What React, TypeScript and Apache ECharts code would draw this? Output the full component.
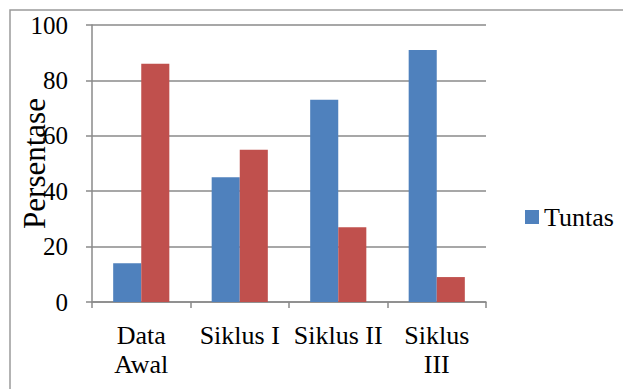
import React, { useEffect, useRef } from "react";
import * as echarts from "echarts";

const categories = ["Data\nAwal", "Siklus I", "Siklus II", "Siklus\nIII"];
const tuntas = [14, 45, 73, 91];
const tidakTuntas = [86, 55, 27, 9];
const yTicks = { min: 0, max: 100, interval: 20 };

const FONT = "'Liberation Serif', 'Times New Roman', serif";
const AXIS_COLOR = "#8a8a8a";

export default function App() {
  const ref = useRef<HTMLDivElement>(null);
  useEffect(() => {
    document.body.style.margin = "0";
    const chart = echarts.init(ref.current!, null, { renderer: "svg" });
    chart.setOption({
      animation: false,
      backgroundColor: "#ffffff",
      textStyle: { fontFamily: FONT },
      graphic: [
        {
          type: "rect",
          shape: { x: 10, y: 10, width: 800, height: 600 },
          style: { fill: "none", stroke: "#9a9a9a", lineWidth: 1.5 },
          silent: true,
        },
      ],
      grid: {
        left: 92,
        top: 25,
        right: 137,
        bottom: 87,
        containLabel: false,
        outerBoundsMode: "none",
      },
      legend: {
        data: ["Tuntas"],
        left: 525,
        top: 204,
        padding: 0,
        icon: "rect",
        itemWidth: 14,
        itemHeight: 14,
        itemGap: 5,
        textStyle: { fontFamily: FONT, fontSize: 26, color: "#000", lineHeight: 26 },
      },
      xAxis: {
        type: "category",
        data: categories,
        axisLine: { show: true, lineStyle: { color: AXIS_COLOR, width: 1.5 } },
        axisTick: { show: true, alignWithLabel: false, length: 6, lineStyle: { color: AXIS_COLOR, width: 1.5 } },
        axisLabel: {
          fontFamily: FONT,
          fontSize: 26,
          color: "#000",
          lineHeight: 29,
          margin: 19,
          interval: 0,
        },
        splitLine: { show: false },
      },
      yAxis: {
        type: "value",
        min: yTicks.min,
        max: yTicks.max,
        interval: yTicks.interval,
        name: "Persentase",
        nameLocation: "middle",
        nameRotate: 90,
        nameGap: 42,
        nameMoveOverlap: false,
        nameTextStyle: { fontFamily: FONT, fontSize: 31, color: "#000" },
        axisLine: { show: true, lineStyle: { color: AXIS_COLOR, width: 1.5 } },
        axisTick: { show: true, length: 6, lineStyle: { color: AXIS_COLOR, width: 1.5 } },
        axisLabel: { fontFamily: FONT, fontSize: 25, color: "#000", margin: 24 },
        splitLine: { show: true, lineStyle: { color: AXIS_COLOR, width: 1.5 } },
      },
      series: [
        {
          name: "Tuntas",
          type: "bar",
          data: tuntas,
          itemStyle: { color: "#4F81BD" },
          barGap: "0%",
          barCategoryGap: "43%",
        },
        {
          name: "Tidak Tuntas",
          type: "bar",
          data: tidakTuntas,
          itemStyle: { color: "#C0504D" },
          barGap: "0%",
          barCategoryGap: "43%",
        },
      ],
    });
    return () => chart.dispose();
  }, []);
  return <div ref={ref} style={{ width: 623, height: 389 }} />;
}
